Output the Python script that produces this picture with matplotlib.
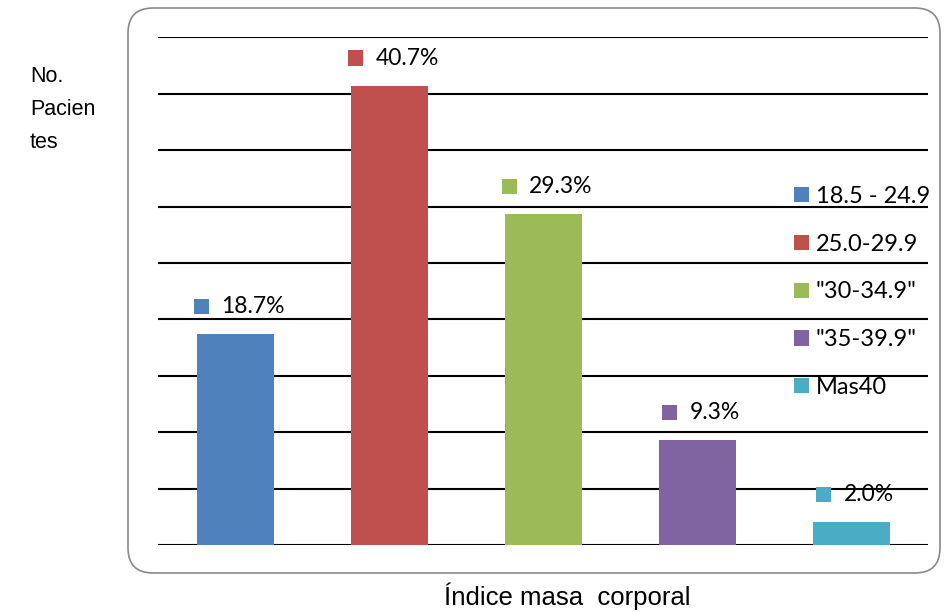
import matplotlib.pyplot as plt
from matplotlib.patches import FancyBboxPatch, Rectangle, Patch
from matplotlib.offsetbox import AnnotationBbox, DrawingArea, TextArea, HPacker

# BMI groups and share of patients (%)
categorias = ["18.5 - 24.9", "25.0-29.9", "\"30-34.9\"", "\"35-39.9\"", "Mas40"]
porcentajes = [18.7, 40.7, 29.3, 9.3, 2.0]
colores = ["#4F81BD", "#C0504D", "#9BBB59", "#8064A2", "#4BACC6"]
yticks = [0, 5, 10, 15, 20, 25, 30, 35, 40, 45]

W, H = 944, 612
fig = plt.figure(figsize=(W / 100, H / 100), dpi=100)

# rounded frame around the plot area (inch coordinates so the corners stay round)
marco = FancyBboxPatch((1.28, 0.39), 8.12, 5.65,
                       boxstyle="round,pad=0,rounding_size=0.25",
                       transform=fig.dpi_scale_trans, facecolor="none",
                       edgecolor="#8a8a8a", linewidth=1.2, zorder=-1)
fig.patches.append(marco)

ax = fig.add_axes([158 / W, 1 - 545 / H, 770 / W, (545 - 37.4) / H])
ax.set_facecolor("none")

x = range(len(porcentajes))
ax.bar(x, porcentajes, width=0.5, color=colores, zorder=3)

ax.set_xlim(-0.5, 4.5)
ax.set_ylim(0, 45)
ax.set_yticks(yticks)
ax.yaxis.grid(True, color="black", linewidth=1.5, zorder=1)
ax.set_axisbelow(True)
ax.tick_params(length=0, labelleft=False, labelbottom=False)
for s in ax.spines.values():
    s.set_visible(False)

fuente = "Lato"

# value labels: small colored square + percentage
for i, v in enumerate(porcentajes):
    cuadro = DrawingArea(11, 11, 0, 0)
    cuadro.add_artist(Rectangle((0, 0), 11, 11, facecolor=colores[i], edgecolor="none"))
    txt = TextArea(f"{v:.1f}%", textprops=dict(fontsize=16.5, family=fuente, color="black"))
    caja = HPacker(children=[cuadro, txt], align="center", pad=0, sep=9)
    ab = AnnotationBbox(caja, (i, v), xybox=(3, 20), xycoords="data",
                        boxcoords="offset points", box_alignment=(0.5, 0.5),
                        frameon=False, zorder=5)
    ax.add_artist(ab)

manejadores = [Patch(facecolor=c, edgecolor="none") for c in colores]
leg = ax.legend(manejadores, categorias, loc="upper left",
                bbox_to_anchor=(0.826, 0.707), frameon=False,
                prop=dict(family=fuente, size=17),
                handlelength=0.62, handleheight=0.62, handletextpad=0.3,
                labelspacing=1.13, borderpad=0, borderaxespad=0)
leg.set_zorder(6)

fig.text(567 / W, 1 - 596 / H, "Índice masa  corporal", ha="center", va="center",
         fontsize=18.5, family="Liberation Sans")
fig.text(30 / W, 1 - 66 / H, "No.\nPacien\ntes", ha="left", va="top",
         fontsize=15.5, family="Liberation Sans", linespacing=1.75)

fig.savefig("out.png", dpi=100)
